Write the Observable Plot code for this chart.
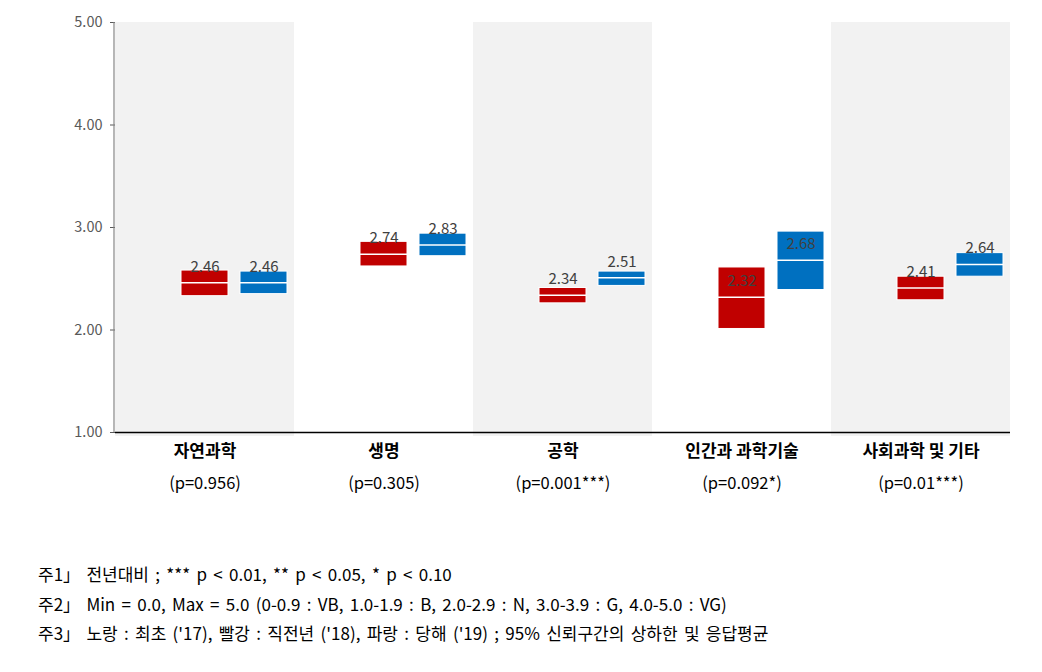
<!DOCTYPE html>
<html>
<head>
<meta charset="utf-8">
<script src="https://cdn.jsdelivr.net/npm/d3@7"></script>
<script src="https://cdn.jsdelivr.net/npm/@observablehq/plot@0.6"></script>
<style>
  body { margin: 0; background: #fff; font-family: "Noto Sans CJK KR", "Noto Sans", sans-serif; }
  #chart { width: 1042px; }
  #notes { margin-top: 59px; padding-left: 38px; font-size: 17px; line-height: 29.5px; word-spacing: 2.5px; color: #000; }
</style>
</head>
<body>
<div id="chart"></div>
<div id="notes"></div>
<script>
const categories = ["자연과학", "생명", "공학", "인간과 과학기술", "사회과학 및 기타"];
const pLabels = ["(p=0.956)", "(p=0.305)", "(p=0.001***)", "(p=0.092*)", "(p=0.01***)"];
const seriesNames = ["2017", "2018", "2019"];
const mean2018 = [2.46, 2.74, 2.34, 2.32, 2.41];
const lower2018 = [2.33, 2.62, 2.26, 2.01, 2.29];
const upper2018 = [2.58, 2.86, 2.41, 2.61, 2.52];
const mean2019 = [2.46, 2.83, 2.51, 2.68, 2.64];
const lower2019 = [2.35, 2.72, 2.43, 2.39, 2.52];
const upper2019 = [2.57, 2.94, 2.57, 2.96, 2.75];
const yTicks = [1, 2, 3, 4, 5];
const notes = [
  "주1」 전년대비 ; *** p < 0.01, ** p < 0.05, * p < 0.10",
  "주2」 Min = 0.0, Max = 5.0 (0-0.9 : VB, 1.0-1.9 : B, 2.0-2.9 : N, 3.0-3.9 : G, 4.0-5.0 : VG)",
  "주3」 노랑 : 최초 ('17), 빨강 : 직전년 ('18), 파랑 : 당해 ('19) ; 95% 신뢰구간의 상하한 및 응답평균"
];

const rows = [];
categories.forEach((c, i) => {
  rows.push({cat: c, series: "2018", mean: mean2018[i], lo: lower2018[i], hi: upper2018[i]});
  rows.push({cat: c, series: "2019", mean: mean2019[i], lo: lower2019[i], hi: upper2019[i]});
});
const bands = categories.filter((c, i) => i % 2 === 0).map(c => ({cat: c, lo: 1, hi: 5}));
const catRows = categories.map((c, i) => ({cat: c, p: pLabels[i]}));

const font = '"Noto Sans CJK KR", "Noto Sans", sans-serif';
const marginLeft = 115;

const chart = Plot.plot({
  width: 1042,
  height: 500,
  marginLeft,
  marginRight: 32,
  marginTop: 22,
  marginBottom: 68,
  style: {fontFamily: font, fontSize: "14.5px", color: "#595959", background: "#fff"},
  fx: {domain: categories, padding: 0, axis: null},
  x: {domain: seriesNames, paddingInner: 0.2, paddingOuter: 0.1, axis: null},
  y: {domain: [1, 5], ticks: yTicks, tickFormat: d3.format(".2f"), tickSize: 5, tickPadding: 8, label: null},
  marks: [
    Plot.rect(bands, {fx: "cat", y1: "lo", y2: "hi", fill: "#f2f2f2", insetBottom: -4}),
    Plot.ruleY([1], {stroke: "#000", strokeWidth: 1.5}),
    Plot.barY(rows, {fx: "cat", x: "series", y1: "lo", y2: "hi",
      fill: d => d.series === "2018" ? "#c00000" : "#0070c0", stroke: "#fff", strokeWidth: 1}),
    Plot.tickY(rows, {fx: "cat", x: "series", y: "mean", stroke: "#fff", strokeWidth: 1.5}),
    Plot.text(rows, {fx: "cat", x: "series", y: "mean", text: d => d.mean.toFixed(2), dy: -16,
      fill: "#404040", fontSize: 15}),
    Plot.text(catRows, {fx: "cat", text: "cat", frameAnchor: "bottom", dy: 24,
      fill: "#000", fontSize: 17, fontWeight: "bold"}),
    Plot.text(catRows, {fx: "cat", text: "p", frameAnchor: "bottom", dy: 56,
      fill: "#000", fontSize: 16.5})
  ]
});
// vertical y-axis line, placed from the plot's own y scale
const yScale = chart.scale("y");
d3.select(chart).append("line")
  .attr("x1", marginLeft - 1).attr("x2", marginLeft - 1)
  .attr("y1", yScale.range[0]).attr("y2", yScale.range[1])
  .attr("stroke", "#868686").attr("stroke-width", 1.2);
document.getElementById("chart").appendChild(chart);
const notesDiv = document.getElementById("notes");
notes.forEach(t => { const d = document.createElement("div"); d.textContent = t; notesDiv.appendChild(d); });
</script>
</body>
</html>
